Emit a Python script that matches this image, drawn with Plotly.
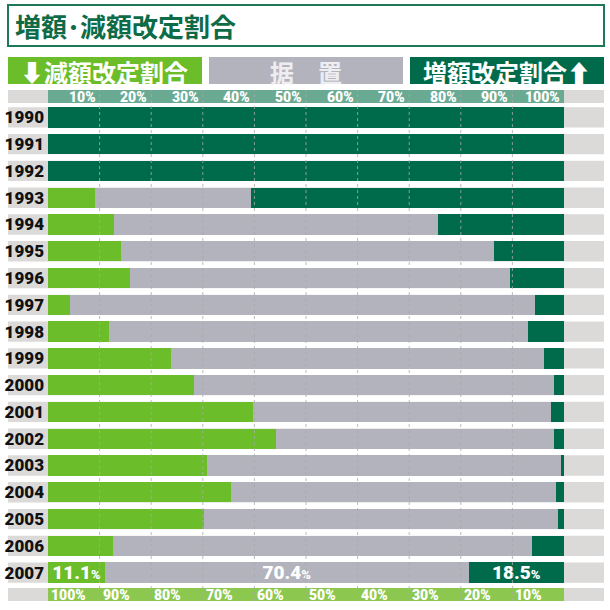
import plotly.graph_objects as go

# data (percent of cases per year)
years = [str(y) for y in range(1990, 2008)]
decrease = [0, 0, 0, 9.1, 12.7, 14.2, 15.9, 4.3, 11.9, 23.8,
            28.3, 39.7, 44.1, 30.9, 35.5, 30.3, 12.5, 11.1]
increase = [100, 100, 100, 60.6, 24.4, 13.5, 10.4, 5.6, 6.9, 3.9,
            1.9, 2.6, 2.0, 0.6, 1.6, 1.2, 6.2, 18.5]
hold = [round(100 - d - i, 1) for d, i in zip(decrease, increase)]

top_ticks = [10, 20, 30, 40, 50, 60, 70, 80, 90, 100]
top_labels = ["10%", "20%", "30%", "40%", "50%", "60%", "70%", "80%", "90%", "100%"]
bottom_ticks = [0, 10, 20, 30, 40, 50, 60, 70, 80, 90]
bottom_labels = ["100%", "90%", "80%", "70%", "60%", "50%", "40%", "30%", "20%", "10%"]

# colours
DARK = "#006b4a"
LIGHT = "#6bbd2a"
GRAY = "#b3b3bd"
BAND = "#dcd9d9"
TEAL = "#6aaa93"
LIME = "#8cc84f"

CJK = "Noto Sans CJK JP"
NUM = "Roboto"

W, H = 610, 610
L, R = 48, 46          # plot area 48..564 px
T, B = 104, 24         # plot area 104..586 px
pw = W - L - R
ph = H - T - B


def px(x):
    return (x - L) / pw


def py(y):
    return (H - B - y) / ph


def last_only(vals):
    # label only the 2007 row
    out = [""] * len(vals)
    out[-1] = f"{vals[-1]:.1f}<span style='font-size:13px'>%</span>"
    return out


fig = go.Figure()
for name, vals, color in [("減額", decrease, LIGHT), ("据置", hold, GRAY), ("増額", increase, DARK)]:
    fig.add_trace(go.Bar(
        y=years, x=vals, orientation="h", name=name,
        marker=dict(color=color, line=dict(width=0)),
        text=last_only(vals), textposition="inside", insidetextanchor="middle",
        textfont=dict(family=NUM, size=19, color="white", weight=900),
        hoverinfo="x+y", showlegend=False,
    ))

shapes = []
# title box
shapes.append(dict(type="rect", xref="paper", yref="paper",
                   x0=px(8), x1=px(604), y0=py(46), y1=py(5),
                   line=dict(color="#1e7a56", width=2), fillcolor="white", layer="below"))
# legend boxes
for x0, x1, c in [(8, 202, LIGHT), (209, 403, GRAY), (410, 604, DARK)]:
    shapes.append(dict(type="rect", xref="paper", yref="paper",
                       x0=px(x0), x1=px(x1), y0=py(84), y1=py(57),
                       line=dict(width=0), fillcolor=c, layer="below"))
# axis bands top and bottom
for y0, y1, c in [(90, 103, TEAL), (588, 601, LIME)]:
    shapes.append(dict(type="rect", xref="paper", yref="paper", x0=px(8), x1=0,
                       y0=py(y1), y1=py(y0), line=dict(width=0), fillcolor=BAND, layer="below"))
    shapes.append(dict(type="rect", xref="paper", yref="paper", x0=0, x1=1,
                       y0=py(y1), y1=py(y0), line=dict(width=0), fillcolor=c, layer="below"))
    shapes.append(dict(type="rect", xref="paper", yref="paper", x0=1, x1=px(604),
                       y0=py(y1), y1=py(y0), line=dict(width=0), fillcolor=BAND, layer="below"))
# grey band behind every row (year label boxes)
for i in range(len(years)):
    shapes.append(dict(type="rect", xref="paper", yref="y", x0=px(8), x1=px(604),
                       y0=i - 0.38, y1=i + 0.38, line=dict(width=0),
                       fillcolor=BAND, layer="below"))
# dashed grid running through both axis bands
for t in top_ticks[:-1]:
    shapes.append(dict(type="line", xref="x", yref="paper", x0=t, x1=t,
                       y0=py(601), y1=py(90),
                       line=dict(color="rgba(170,170,170,0.8)", width=1, dash="3px,3px"),
                       layer="above"))

year_font = dict(family=NUM, size=17, color="#111111", weight=900)
tick_font = dict(family=NUM, size=14, color="white", weight=900)

annotations = [
    dict(text="<b>増額･減額改定割合</b>", xref="paper", yref="paper", x=px(13), y=py(26),
         xanchor="left", yanchor="middle", showarrow=False,
         font=dict(family=CJK, size=26, color="#0e6b47")),
    dict(text="<b>⬇減額改定割合</b>", xref="paper", yref="paper", x=px(104), y=py(71),
         xanchor="center", yanchor="middle", showarrow=False,
         font=dict(family=CJK, size=24, color="white")),
    dict(text="<b>据　置</b>", xref="paper", yref="paper", x=px(306), y=py(71),
         xanchor="center", yanchor="middle", showarrow=False,
         font=dict(family=CJK, size=24, color="#eeeef2")),
    dict(text="<b>増額改定割合⬆</b>", xref="paper", yref="paper", x=px(507), y=py(71),
         xanchor="center", yanchor="middle", showarrow=False,
         font=dict(family=CJK, size=24, color="white")),
]
# year labels on the right side
for yr in years:
    annotations.append(dict(text=yr, xref="paper", yref="y", x=px(566), y=yr,
                            xanchor="left", yanchor="middle", showarrow=False,
                            font=year_font))
# percent scale in the top band (ends at each grid line)
for t, lab in zip(top_ticks, top_labels):
    annotations.append(dict(text=lab, xref="x", yref="paper", x=t, y=py(96.5),
                            xanchor="right", yanchor="middle", xshift=-2, showarrow=False,
                            font=tick_font))
# reversed percent scale along the bottom band
for t, lab in zip(bottom_ticks, bottom_labels):
    annotations.append(dict(text=lab, xref="x", yref="paper", x=t, y=py(595),
                            xanchor="left", yanchor="middle", xshift=1, showarrow=False,
                            font=tick_font))

fig.update_layout(
    template="none",
    width=W, height=H,
    margin=dict(l=L, r=R, t=T, b=B, autoexpand=False),
    paper_bgcolor="white", plot_bgcolor="rgba(0,0,0,0)",
    barmode="stack", bargap=0.24,
    uniformtext=dict(mode="show", minsize=19),
    shapes=shapes, annotations=annotations,
    xaxis=dict(range=[0, 100], showticklabels=False, ticks="", showgrid=False,
               zeroline=False, showline=False, automargin=False),
    yaxis=dict(type="category", categoryarray=years, autorange=False, automargin=False,
               range=[len(years) - 0.5, -0.5], ticks="", showgrid=False, zeroline=False,
               tickfont=year_font, ticklabelstandoff=3),
)

fig.write_html("out.html", config={"displayModeBar": False},
               post_script="document.body.style.margin='0';")
